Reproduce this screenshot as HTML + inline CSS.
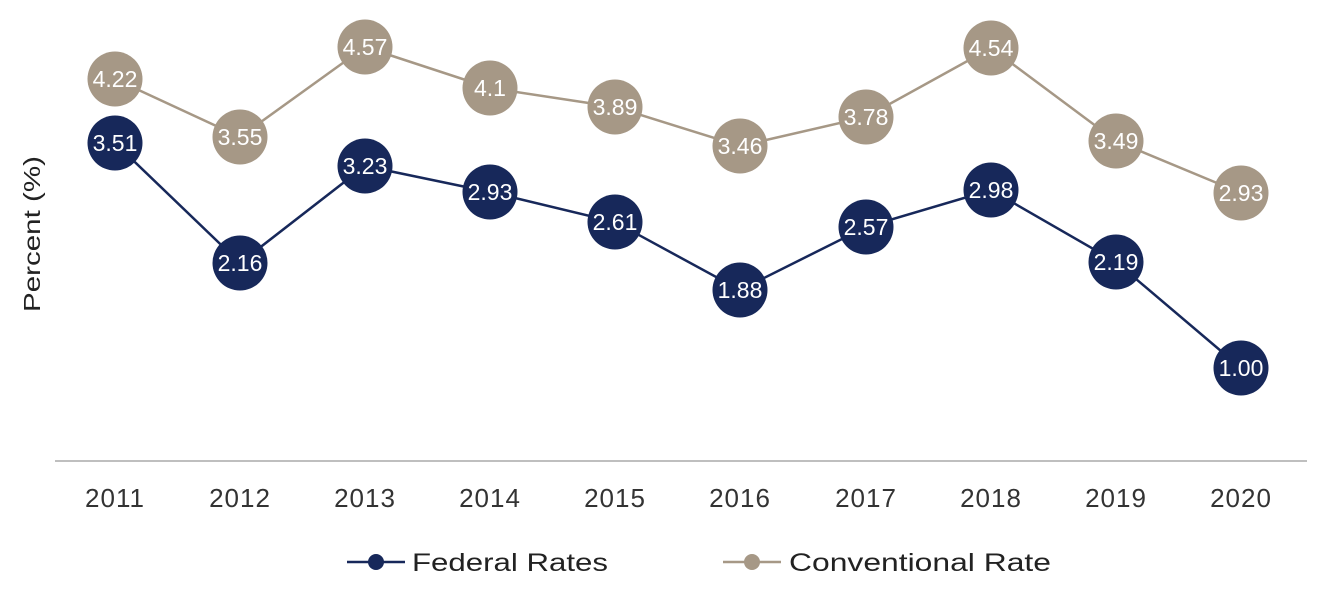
<!DOCTYPE html>
<html><head><meta charset="utf-8"><style>
html,body{margin:0;padding:0;background:#fff;}
svg{display:block;font-family:"Liberation Sans",sans-serif;}
</style></head><body>
<svg width="1333" height="600" viewBox="0 0 1333 600">
<line x1="55" y1="461" x2="1307" y2="461" stroke="#999" stroke-width="1.2"/>
<text transform="translate(40,234) rotate(-90)" text-anchor="middle" font-size="23" fill="#222" textLength="156" lengthAdjust="spacingAndGlyphs">Percent (%)</text>
<g font-size="26" fill="#333" text-anchor="middle" letter-spacing="1">
<text x="115" y="507">2011</text><text x="240" y="507">2012</text><text x="365" y="507">2013</text><text x="490" y="507">2014</text><text x="615" y="507">2015</text><text x="740" y="507">2016</text><text x="866" y="507">2017</text><text x="991" y="507">2018</text><text x="1116" y="507">2019</text><text x="1241" y="507">2020</text>
</g>
<polyline fill="none" stroke="#a69886" stroke-width="2.5" points="115,79 240,137 365,47 490,88 615,107 740,146 866,117 991,48 1116,141 1241,193"/>
<polyline fill="none" stroke="#17285a" stroke-width="2.5" points="115,143 240,263 365,166 490,192 615,222 740,290 866,227 991,190 1116,262 1241,368"/>
<g fill="#a69886"><circle cx="115" cy="79" r="27.5"/><circle cx="240" cy="137" r="27.5"/><circle cx="365" cy="47" r="27.5"/><circle cx="490" cy="88" r="27.5"/><circle cx="615" cy="107" r="27.5"/><circle cx="740" cy="146" r="27.5"/><circle cx="866" cy="117" r="27.5"/><circle cx="991" cy="48" r="27.5"/><circle cx="1116" cy="141" r="27.5"/><circle cx="1241" cy="193" r="27.5"/></g>
<g fill="#17285a"><circle cx="115" cy="143" r="27.5"/><circle cx="240" cy="263" r="27.5"/><circle cx="365" cy="166" r="27.5"/><circle cx="490" cy="192" r="27.5"/><circle cx="615" cy="222" r="27.5"/><circle cx="740" cy="290" r="27.5"/><circle cx="866" cy="227" r="27.5"/><circle cx="991" cy="190" r="27.5"/><circle cx="1116" cy="262" r="27.5"/><circle cx="1241" cy="368" r="27.5"/></g>
<g fill="#fff" font-size="23" text-anchor="middle">
<text x="115" y="87">4.22</text><text x="240" y="145">3.55</text><text x="365" y="55">4.57</text><text x="490" y="96">4.1</text><text x="615" y="115">3.89</text><text x="740" y="154">3.46</text><text x="866" y="125">3.78</text><text x="991" y="56">4.54</text><text x="1116" y="149">3.49</text><text x="1241" y="201">2.93</text>
<text x="115" y="151">3.51</text><text x="240" y="271">2.16</text><text x="365" y="174">3.23</text><text x="490" y="200">2.93</text><text x="615" y="230">2.61</text><text x="740" y="298">1.88</text><text x="866" y="235">2.57</text><text x="991" y="198">2.98</text><text x="1116" y="270">2.19</text><text x="1241" y="376">1.00</text>
</g>
<line x1="347" y1="562" x2="405" y2="562" stroke="#17285a" stroke-width="2.5"/>
<circle cx="376" cy="562" r="8" fill="#17285a"/>
<text x="412" y="571" font-size="25" fill="#222" textLength="196" lengthAdjust="spacingAndGlyphs">Federal Rates</text>
<line x1="723" y1="562" x2="781" y2="562" stroke="#a69886" stroke-width="2.5"/>
<circle cx="752" cy="562" r="8" fill="#a69886"/>
<text x="789" y="571" font-size="25" fill="#222" textLength="262" lengthAdjust="spacingAndGlyphs">Conventional Rate</text>
</svg>
</body></html>
